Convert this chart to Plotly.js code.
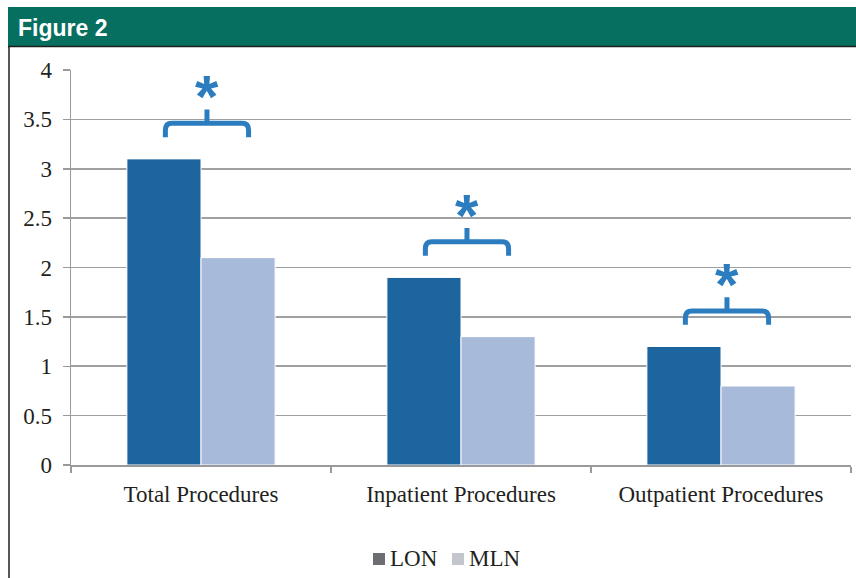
<!DOCTYPE html>
<html>
<head>
<meta charset="utf-8">
<script src="https://cdn.plot.ly/plotly-3.0.1.min.js"></script>
<style>
html,body{margin:0;padding:0;background:#fff;}
#chart{width:856px;height:578px;}
</style>
</head>
<body>
<div id="chart"></div>
<script>
// ---- data ----
var categories = ["Total Procedures", "Inpatient Procedures", "Outpatient Procedures"];
var seriesNames = ["LON", "MLN"];
var lonValues = [3.1, 1.9, 1.2];
var mlnValues = [2.1, 1.3, 0.8];
var significant = [true, true, true];
var yTickVals = [0, 0.5, 1, 1.5, 2, 2.5, 3, 3.5, 4];
var yTickText = ["0", "0.5", "1", "1.5", "2", "2.5", "3", "3.5", "4"];
var figureTitle = "Figure 2";

// ---- styles ----
var lonColor = "#1c659f";
var mlnColor = "#a7bad9";
var legendColors = ["#6c6e72", "#c3c6cc"];
var braceColor = "#2b7dbf";
var headerColor = "#076f60";
var serif = "Liberation Serif, Times New Roman, serif";
var textColor = "#231f20";
var fs = 23;

var W = 856, H = 578;
var mL = 71, mR = 5, mT = 70, mB = 113;
var plotW = W - mL - mR, plotH = H - mT - mB;
function px2paperX(px) { return (px - mL) / plotW; }
function px2paperY(py) { return (H - mB - py) / plotH; }

var traces = [
  {type: "bar", name: seriesNames[0], x: categories, y: lonValues,
   marker: {color: lonColor, line: {color: "#ffffff", width: 1}}, hoverinfo: "x+y+name"},
  {type: "bar", name: seriesNames[1], x: categories, y: mlnValues,
   marker: {color: mlnColor, line: {color: "#ffffff", width: 1}}, hoverinfo: "x+y+name"}
];

// ---- braces and asterisks ----
var shapes = [];
var annotations = [];
var cOff = 0.023, half = 0.16, rx = 0.025, ry = 0.07;
for (var i = 0; i < categories.length; i++) {
  if (!significant[i]) continue;
  var v = Math.max(lonValues[i], mlnValues[i]);
  var C = i + cOff, Lx = C - half, Rx = C + half;
  var hy = v + 0.36, ey = v + 0.22, ty = v + 0.5;
  var p = "M " + Lx + "," + ey +
          " L " + Lx + "," + (hy - ry) +
          " Q " + Lx + "," + hy + " " + (Lx + rx) + "," + hy +
          " L " + (Rx - rx) + "," + hy +
          " Q " + Rx + "," + hy + " " + Rx + "," + (hy - ry) +
          " L " + Rx + "," + ey +
          " M " + C + "," + hy +
          " L " + C + "," + ty;
  shapes.push({type: "path", xref: "x2", yref: "y", path: p,
               line: {color: braceColor, width: 5}, layer: "above"});
  annotations.push({xref: "x2", yref: "y", x: C, y: v + 0.7, text: "<b>*</b>",
                    showarrow: false, xanchor: "center", yanchor: "middle", yshift: -7,
                    font: {family: "Liberation Sans, Arial, sans-serif", size: 60, color: braceColor}});
}

// header band and frame
shapes.push({type: "rect", xref: "paper", yref: "paper",
             x0: px2paperX(8), x1: px2paperX(860), y0: px2paperY(46), y1: px2paperY(7),
             fillcolor: headerColor, line: {width: 0}, layer: "above"});
shapes.push({type: "line", xref: "paper", yref: "paper",
             x0: px2paperX(8), x1: px2paperX(860), y0: px2paperY(46.5), y1: px2paperY(46.5),
             line: {color: "#1e1e1e", width: 1.5}, layer: "above"});
shapes.push({type: "line", xref: "paper", yref: "paper",
             x0: px2paperX(9), x1: px2paperX(9), y0: px2paperY(46), y1: px2paperY(590),
             line: {color: "#1e1e1e", width: 1.5}, layer: "above"});
annotations.push({xref: "paper", yref: "paper", x: px2paperX(16), y: px2paperY(28),
                  xanchor: "left", yanchor: "middle", showarrow: false,
                  text: "<b>" + figureTitle + "</b>",
                  font: {family: "Liberation Sans, Arial, sans-serif", size: 23, color: "#ffffff"}});

// legend (square swatches + names), laid out like the reference
var legendSquareX = [373, 452];
var legendTextX = [388, 467];
var legendY = 559;
for (var k = 0; k < seriesNames.length; k++) {
  shapes.push({type: "rect", xref: "paper", yref: "paper",
               x0: px2paperX(legendSquareX[k]), x1: px2paperX(legendSquareX[k] + 12),
               y0: px2paperY(legendY + 6), y1: px2paperY(legendY - 6),
               fillcolor: legendColors[k], line: {width: 0}, layer: "above"});
  annotations.push({xref: "paper", yref: "paper", x: px2paperX(legendTextX[k]), y: px2paperY(legendY),
                    xanchor: "left", yanchor: "middle", yshift: 1, showarrow: false,
                    text: seriesNames[k], font: {family: serif, size: fs, color: textColor}});
}

var layout = {
  width: W, height: H,
  margin: {l: mL, r: mR, t: mT, b: mB, pad: 0},
  paper_bgcolor: "#ffffff", plot_bgcolor: "#ffffff",
  barmode: "group", bargap: 0.43, bargroupgap: 0,
  showlegend: false,
  xaxis: {type: "category", tickson: "boundaries", ticks: "outside", ticklen: 6, tickcolor: "#9a9a9a",
          tickwidth: 1.5, showline: true, linecolor: "#9a9a9a", linewidth: 1.5, showgrid: false,
          ticklabelstandoff: 8,
          tickfont: {family: serif, size: fs, color: textColor}, fixedrange: true},
  xaxis2: {overlaying: "x", range: [-0.5, 2.5], visible: false, fixedrange: true},
  yaxis: {range: [0, 4], tickvals: yTickVals, ticktext: yTickText, ticks: "outside", ticklen: 7,
          tickcolor: "#9a9a9a", tickwidth: 1.5, showline: true, linecolor: "#9a9a9a", linewidth: 1.5,
          showgrid: true, gridcolor: "#a0a0a0", gridwidth: 1.6, zeroline: false,
          ticklabelstandoff: 6,
          tickfont: {family: serif, size: fs, color: textColor}, fixedrange: true},
  shapes: shapes,
  annotations: annotations
};

Plotly.newPlot("chart", traces, layout, {displayModeBar: false, staticPlot: true});
</script>
</body>
</html>
